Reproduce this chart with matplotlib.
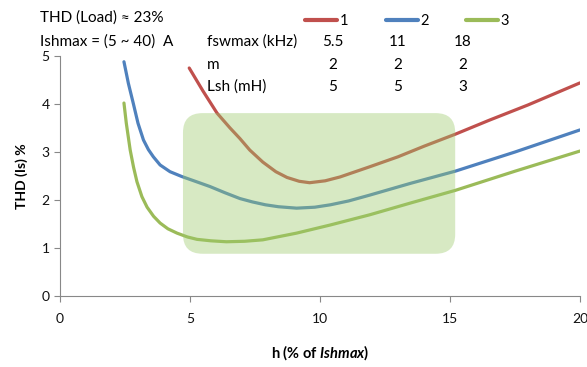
import matplotlib
matplotlib.use("Agg")
import matplotlib.pyplot as plt
from matplotlib.patches import FancyBboxPatch

plt.rcParams["font.family"] = ["Lato", "DejaVu Sans"]
plt.rcParams["mathtext.fontset"] = "custom"
plt.rcParams["mathtext.it"] = "Lato:italic:bold"
plt.rcParams["mathtext.rm"] = "Lato:bold"

# curve data
x1 = [4.97, 5.5, 6.04, 6.54, 6.92, 7.3, 7.8, 8.3, 8.73, 9.2, 9.6, 10.2, 10.77, 11.9, 13.0, 14.0, 15.2, 16.5, 18.0, 20.0]
y1 = [4.75, 4.27, 3.81, 3.50, 3.28, 3.04, 2.79, 2.59, 2.47, 2.39, 2.36, 2.40, 2.48, 2.69, 2.90, 3.12, 3.37, 3.66, 3.98, 4.44]

x2 = [2.46, 2.63, 2.82, 3.0, 3.21, 3.4, 3.59, 3.85, 4.23, 4.68, 5.2, 5.77, 6.35, 6.92, 7.4, 7.9, 8.4, 9.1, 9.8, 10.4, 11.1, 11.9, 13.5, 15.2, 17.5, 20.0]
y2 = [4.88, 4.43, 4.01, 3.60, 3.25, 3.05, 2.90, 2.73, 2.59, 2.49, 2.39, 2.28, 2.15, 2.03, 1.96, 1.90, 1.86, 1.83, 1.85, 1.90, 1.98, 2.10, 2.35, 2.60, 3.00, 3.46]

x3 = [2.46, 2.55, 2.7, 2.83, 2.96, 3.15, 3.35, 3.6, 3.85, 4.15, 4.5, 4.9, 5.27, 5.8, 6.4, 7.1, 7.8, 9.1, 10.4, 11.9, 13.5, 15.2, 17.5, 20.0]
y3 = [4.02, 3.60, 3.04, 2.68, 2.38, 2.07, 1.85, 1.66, 1.52, 1.40, 1.31, 1.23, 1.18, 1.15, 1.13, 1.14, 1.17, 1.31, 1.48, 1.69, 1.94, 2.20, 2.60, 3.02]

labels = ["1", "2", "3"]
colors = ["#C0504D", "#4F81BD", "#9BBB59"]

fswmax = ["5.5", "11", "18"]
m_vals = ["2", "2", "2"]
lsh = ["5", "5", "3"]

W, H = 587, 367
fig = plt.figure(figsize=(W / 100, H / 100), dpi=100)
ax = fig.add_axes([60 / W, 1 - 296 / H, 520 / W, 240 / H])

for xs, ys, c, lab in zip([x1, x2, x3], [y1, y2, y3], colors, labels):
    ax.plot(xs, ys, color=c, lw=2.3, label=lab, solid_capstyle="round", solid_joinstyle="round")

# highlighted region (drawn on top, semi-transparent)
box = FancyBboxPatch((4.73, 0.88), 15.2 - 4.73, 3.81 - 0.88,
                     boxstyle="round,pad=0,rounding_size=0.75",
                     mutation_aspect=0.54, facecolor="#9BCA6B", alpha=0.4,
                     edgecolor="none", zorder=5)
ax.add_patch(box)

ax.set_xlim(0, 20)
ax.set_ylim(0, 5)
ax.set_xticks([0, 5, 10, 15, 20])
ax.set_yticks([0, 1, 2, 3, 4, 5])
for s in ["top", "right"]:
    ax.spines[s].set_visible(False)
for s in ["left", "bottom"]:
    ax.spines[s].set_color("#888888")
ax.tick_params(colors="#888888", labelcolor="#111111", labelsize=10, length=4)
ax.tick_params(axis="x", pad=8)

ax.set_xlabel(r"h (% of $\mathit{Ishmax}$)", fontsize=10.5, fontweight="bold", labelpad=13)
ax.set_ylabel("THD (Is) %", fontsize=10, fontweight="bold", labelpad=10)

leg = ax.legend(ncol=3, loc="center left", bbox_to_anchor=(305 / W, 1 - 21 / H),
                bbox_transform=fig.transFigure, frameon=False, fontsize=10.5,
                handlelength=2.2, handletextpad=0.15, columnspacing=2.6,
                borderpad=0, borderaxespad=0)
for ln in leg.get_lines():
    ln.set_linewidth(3)

fs = 11
fig.text(40 / W, 1 - 18 / H, "THD (Load) ≈ 23%", fontsize=fs, va="center")
fig.text(40 / W, 1 - 42 / H, "Ishmax = (5 ~ 40)  A", fontsize=fs, va="center")

rows = ["fswmax (kHz)", "m", "Lsh (mH)"]
row_y = [42, 65, 87]
col_x = [333, 398, 463]
for name, vals, yy in zip(rows, [fswmax, m_vals, lsh], row_y):
    fig.text(207 / W, 1 - yy / H, name, fontsize=fs, va="center")
    for v, xx in zip(vals, col_x):
        fig.text(xx / W, 1 - yy / H, v, fontsize=fs, va="center", ha="center")

fig.savefig("out.png", dpi=100)
